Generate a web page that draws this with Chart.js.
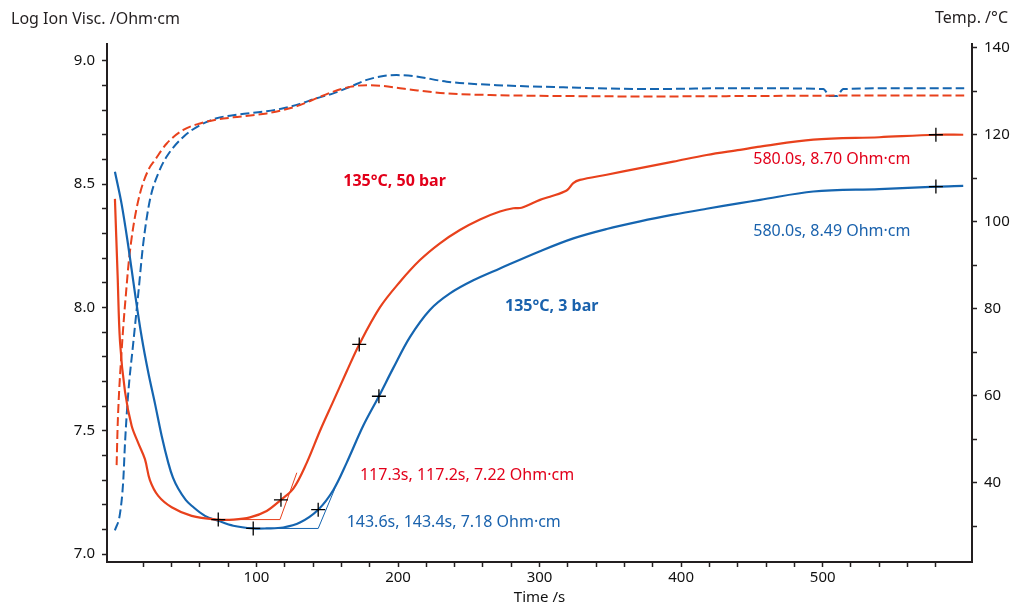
<!DOCTYPE html>
<html lang="en">
<head>
    <meta charset="UTF-8">
    <title>Ion viscosity and temperature</title>
    <script src="https://cdn.jsdelivr.net/npm/chart.js"></script>
    <style>
        html, body { margin: 0; padding: 0; background: #fff; }
        .chart-container { position: relative; width: 1014px; height: 609px; }
    </style>
</head>
<body>
    <div class="chart-container">
        <canvas id="myChart"></canvas>
    </div>

    <script>
        // 135°C, 50 bar - log ion viscosity
        const time50 = [0, 1.9, 3.6, 7.1, 11.8, 16.5, 21.2, 24.7, 30.6, 40.1, 54.2, 73, 83.6, 95.4, 107.2, 117.3, 126, 135.5, 144.9, 154.3, 163.7, 172.6, 187.2, 201.4, 215.5, 229.6, 243.7, 257.9, 272, 281.4, 287.3, 300.3, 307.3, 319.1, 323.8, 328.5, 347.4, 371, 394.5, 418, 441.6, 455.8, 493.4, 540, 580, 599.3];
        const visc50 = [8.44, 8.13, 7.86, 7.66, 7.52, 7.45, 7.385, 7.30, 7.236, 7.19, 7.155, 7.14, 7.14, 7.149, 7.175, 7.22, 7.265, 7.37, 7.50, 7.62, 7.74, 7.85, 8.0, 8.104, 8.192, 8.26, 8.314, 8.357, 8.389, 8.402, 8.404, 8.436, 8.449, 8.474, 8.504, 8.517, 8.538, 8.565, 8.591, 8.618, 8.639, 8.652, 8.68, 8.69, 8.70, 8.70];

        // 135°C, 3 bar - log ion viscosity
        const time3 = [0, 4.7, 9.4, 14.1, 18.9, 23.6, 28.3, 33, 37.7, 41, 44.8, 50, 54.2, 63.6, 73, 83.6, 97.7, 107.2, 118.9, 130.7, 143.6, 154.3, 163.7, 175.4, 186.5, 196.7, 208.4, 222.5, 236.7, 253.2, 272, 300.3, 323.9, 347.4, 371, 394.5, 418, 441.6, 455.8, 493.4, 540, 580.5, 599.3];
        const visc3 = [8.55, 8.42, 8.25, 8.06, 7.88, 7.735, 7.61, 7.48, 7.37, 7.31, 7.265, 7.22, 7.196, 7.155, 7.135, 7.115, 7.104, 7.104, 7.108, 7.128, 7.18, 7.26, 7.37, 7.52, 7.64, 7.755, 7.88, 7.99, 8.057, 8.11, 8.158, 8.228, 8.28, 8.318, 8.349, 8.376, 8.40, 8.423, 8.436, 8.47, 8.48, 8.49, 8.493];

        // temperatures (right axis)
        const tempTime50 = [1.2, 1.9, 2.9, 4.3, 5.9, 7.8, 9.9, 13, 17.7, 23.6, 28.3, 36.6, 48.3, 60.1, 71.9, 83.6, 107.2, 119, 130.7, 142.5, 154.3, 166, 177.9, 189.6, 201.4, 210.8, 234.4, 269.7, 316.7, 378, 450, 520, 600];
        const temp50 = [44.1, 52.9, 60.6, 68.2, 75.9, 83.5, 91.2, 98.9, 106.5, 111.9, 114.2, 118, 121.1, 122.6, 123.5, 124, 124.9, 125.7, 126.8, 128.4, 129.9, 131, 131.4, 131.2, 130.7, 130.3, 129.5, 129.1, 128.9, 128.8, 128.9, 129.0, 129.0];
        const tempTime3 = [0, 3.6, 5.9, 7.1, 9.4, 12.9, 16.5, 20, 24.7, 30.6, 36.6, 48.3, 60.1, 71.9, 83.6, 107.2, 119, 130.7, 142.5, 154.3, 166, 177.9, 189.6, 199, 210.8, 234.4, 269.7, 316.7, 378, 440, 500.4, 505.2, 509.9, 514.6, 560, 600];
        const temp3 = [29.1, 33, 40.6, 49, 60.6, 72, 83.5, 95, 105, 111.1, 115, 119.5, 122.2, 123.8, 124.5, 125.4, 126.1, 127.1, 128.4, 129.5, 131, 132.6, 133.5, 133.7, 133.5, 132.2, 131.4, 130.9, 130.5, 130.7, 130.5, 128.9, 128.9, 130.5, 130.7, 130.7];

        // evaluation marks and tangent constructions
        const marks50T = [73, 117.3, 172.6, 580];
        const marks50V = [7.14, 7.22, 7.85, 8.70];
        const marks3T = [97.7, 143.6, 186.5, 580];
        const marks3V = [7.104, 7.18, 7.64, 8.49];
        const tangent50T = [73, 116.6, 128.5];
        const tangent50V = [7.14, 7.14, 7.33];
        const tangent3T = [97.7, 143.6, 155.4];
        const tangent3V = [7.104, 7.104, 7.266];

        // axis ticks
        const xTickValues = [20, 40, 60, 80, 100, 120, 140, 160, 180, 200, 220, 240, 260, 280, 300, 320, 340, 360, 380, 400, 420, 440, 460, 480, 500, 520, 540, 560, 580];
        const xTickLabels = [100, 200, 300, 400, 500];
        const viscTickValues = [7.0, 7.1, 7.2, 7.3, 7.4, 7.5, 7.6, 7.7, 7.8, 7.9, 8.0, 8.1, 8.2, 8.3, 8.4, 8.5, 8.6, 8.7, 8.8, 8.9, 9.0];
        const viscTickLabels = [7.0, 7.5, 8.0, 8.5, 9.0];
        const tempTickValues = [30, 40, 50, 60, 70, 80, 90, 100, 110, 120, 130, 140];
        const tempTickLabels = [40, 60, 80, 100, 120, 140];

        // text labels, anchored in data units (time, log visc)
        const notes = [
            { text: '135°C, 50 bar', t: 161.3, v: 8.51, color: '#e2001a', bold: true },
            { text: '135°C, 3 bar', t: 275.6, v: 8.003, color: '#1a62ad', bold: true },
            { text: '580.0s, 8.70 Ohm·cm', t: 451, v: 8.598, color: '#e2001a', bold: false },
            { text: '580.0s, 8.49 Ohm·cm', t: 451, v: 8.308, color: '#1a62ad', bold: false },
            { text: '117.3s, 117.2s, 7.22 Ohm·cm', t: 173.1, v: 7.32, color: '#e2001a', bold: false },
            { text: '143.6s, 143.4s, 7.18 Ohm·cm', t: 163.7, v: 7.129, color: '#1a62ad', bold: false }
        ];

        const RED = '#e8411c';
        const BLUE = '#1565b0';
        const AXIS = '#231f20';
        const FONT = '"Noto Sans", "Open Sans", sans-serif';

        const pts = (xs, ys) => xs.map((x, i) => ({ x: x, y: ys[i] }));
        const near = (list, v) => list.some(l => Math.abs(l - v) < 1e-6);

        const notesPlugin = {
            id: 'notes',
            afterDraw(chart) {
                const c = chart.ctx;
                const sx = chart.scales.x, sy = chart.scales.y;
                c.save();
                c.textBaseline = 'middle';
                notes.forEach(n => {
                    c.font = (n.bold ? 'bold ' : '') + '16px ' + FONT;
                    c.fillStyle = n.color;
                    c.textAlign = 'left';
                    c.fillText(n.text, sx.getPixelForValue(n.t), sy.getPixelForValue(n.v));
                });
                // axis titles on top of the frame
                c.font = '16px ' + FONT;
                c.fillStyle = AXIS;
                c.textAlign = 'left';
                c.fillText('Log Ion Visc. /Ohm·cm', 11, chart.chartArea.top - 25);
                c.textAlign = 'right';
                c.fillText('Temp. /°C', chart.width - 6, chart.chartArea.top - 26);
                c.restore();
            }
        };

        const ctx = document.getElementById('myChart').getContext('2d');
        const chart = new Chart(ctx, {
            type: 'line',
            data: {
                datasets: [
                    {
                        label: 'marks 50 bar',
                        data: pts(marks50T, marks50V),
                        showLine: false,
                        pointStyle: 'cross',
                        pointRadius: 7,
                        pointBorderColor: '#000',
                        pointBorderWidth: 1.3,
                        yAxisID: 'y'
                    },
                    {
                        label: 'marks 3 bar',
                        data: pts(marks3T, marks3V),
                        showLine: false,
                        pointStyle: 'cross',
                        pointRadius: 7,
                        pointBorderColor: '#000',
                        pointBorderWidth: 1.3,
                        yAxisID: 'y'
                    },
                    {
                        label: 'tangent 50 bar',
                        data: pts(tangent50T, tangent50V),
                        borderColor: RED,
                        borderWidth: 1,
                        pointRadius: 0,
                        tension: 0,
                        yAxisID: 'y'
                    },
                    {
                        label: 'tangent 3 bar',
                        data: pts(tangent3T, tangent3V),
                        borderColor: BLUE,
                        borderWidth: 1,
                        pointRadius: 0,
                        tension: 0,
                        yAxisID: 'y'
                    },
                    {
                        label: 'Ion visc. 50 bar',
                        data: pts(time50, visc50),
                        borderColor: RED,
                        borderWidth: 2.2,
                        pointRadius: 0,
                        tension: 0.35,
                        yAxisID: 'y'
                    },
                    {
                        label: 'Ion visc. 3 bar',
                        data: pts(time3, visc3),
                        borderColor: BLUE,
                        borderWidth: 2.2,
                        pointRadius: 0,
                        tension: 0.35,
                        yAxisID: 'y'
                    },
                    {
                        label: 'Temp. 50 bar',
                        data: pts(tempTime50, temp50),
                        borderColor: RED,
                        borderWidth: 2,
                        borderDash: [9, 4],
                        pointRadius: 0,
                        cubicInterpolationMode: 'monotone',
                        yAxisID: 'y2'
                    },
                    {
                        label: 'Temp. 3 bar',
                        data: pts(tempTime3, temp3),
                        borderColor: BLUE,
                        borderWidth: 2,
                        borderDash: [9, 4],
                        pointRadius: 0,
                        cubicInterpolationMode: 'monotone',
                        yAxisID: 'y2'
                    }
                ]
            },
            options: {
                responsive: true,
                maintainAspectRatio: false,
                animation: false,
                layout: { padding: { top: 44, left: 0, right: 0, bottom: 0 } },
                plugins: {
                    legend: { display: false },
                    tooltip: { enabled: false }
                },
                scales: {
                    x: {
                        type: 'linear',
                        min: -5.6,
                        max: 605.5,
                        afterBuildTicks: s => { s.ticks = xTickValues.map(v => ({ value: v })); },
                        afterFit: s => { s.height = 47; },
                        border: { display: true, color: AXIS, width: 2 },
                        grid: { drawOnChartArea: false, drawTicks: true, tickLength: 5, color: AXIS, tickWidth: 1.5 },
                        ticks: {
                            autoSkip: false,
                            maxRotation: 0,
                            padding: 2,
                            color: '#111',
                            font: { family: FONT, size: 15 },
                            callback: v => near(xTickLabels, v) ? String(v) : ''
                        },
                        title: {
                            display: true,
                            text: 'Time /s',
                            color: '#111',
                            font: { family: FONT, size: 15 },
                            padding: { top: 0, bottom: 2 }
                        }
                    },
                    y: {
                        type: 'linear',
                        position: 'left',
                        min: 6.968,
                        max: 9.068,
                        afterBuildTicks: s => { s.ticks = viscTickValues.map(v => ({ value: v })); },
                        afterFit: s => { s.width = 107; },
                        border: { display: true, color: AXIS, width: 2 },
                        grid: { drawOnChartArea: false, drawTicks: true, tickLength: 5, color: AXIS, tickWidth: 1.5 },
                        ticks: {
                            autoSkip: false,
                            padding: 7,
                            color: '#111',
                            font: { family: FONT, size: 15 },
                            callback: v => near(viscTickLabels, v) ? v.toFixed(1) : ''
                        }
                    },
                    y2: {
                        type: 'linear',
                        position: 'right',
                        min: 21.84,
                        max: 140.85,
                        afterBuildTicks: s => { s.ticks = tempTickValues.map(v => ({ value: v })); },
                        afterFit: s => { s.width = 42; },
                        border: { display: true, color: AXIS, width: 2 },
                        grid: { drawOnChartArea: false, drawTicks: true, tickLength: 5, color: AXIS, tickWidth: 1.5 },
                        ticks: {
                            autoSkip: false,
                            padding: 7,
                            color: '#111',
                            font: { family: FONT, size: 15 },
                            callback: v => near(tempTickLabels, v) ? String(v) : ''
                        }
                    }
                }
            },
            plugins: [notesPlugin]
        });
    </script>
</body>
</html>
